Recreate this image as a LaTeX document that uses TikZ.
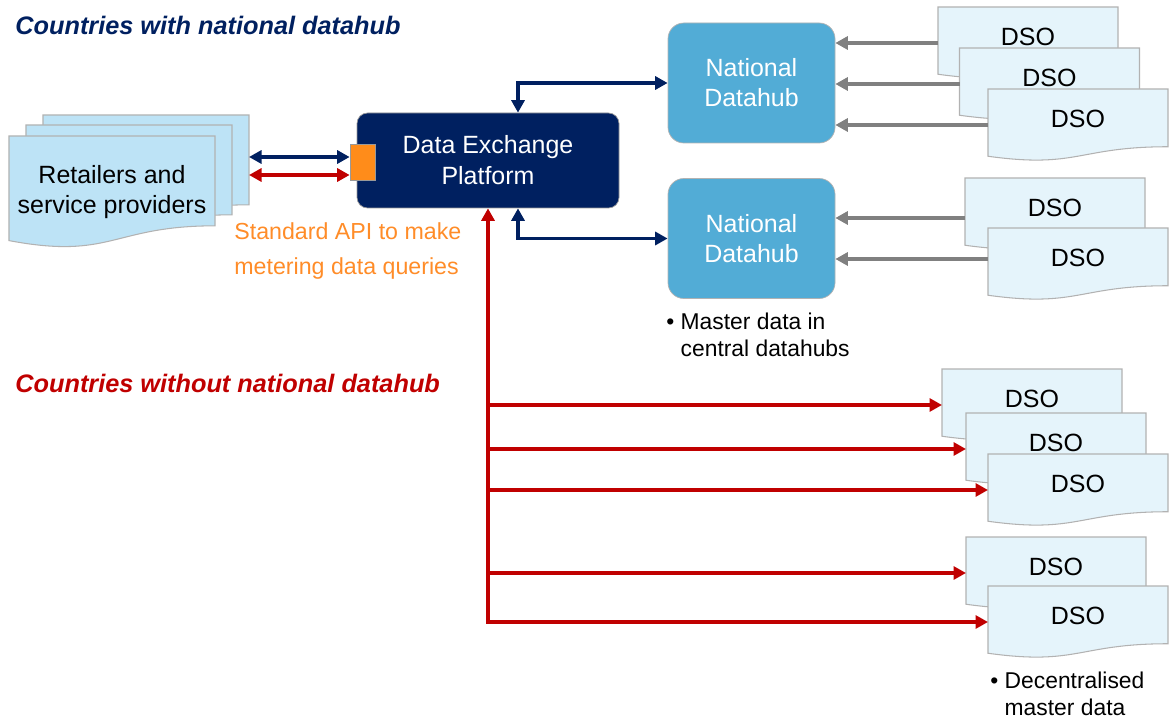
\documentclass[tikz,border=0pt]{standalone}
\usepackage{fontspec}
\setmainfont{Liberation Sans}
\usepackage{xcolor}
\usetikzlibrary{arrows.meta}

\definecolor{navy}{RGB}{0,32,96}
\definecolor{darkred}{RGB}{192,0,0}
\definecolor{hubblue}{RGB}{82,172,214}
\definecolor{retblue}{RGB}{189,227,246}
\definecolor{dsoblue}{RGB}{229,244,251}
\definecolor{apiorange}{RGB}{255,140,26}
\definecolor{apitext}{RGB}{255,140,40}

% document shape with a wavy bottom edge
\makeatletter
\pgfdeclareshape{wavedoc}{%
  \inheritsavedanchors[from=rectangle]%
  \inheritanchorborder[from=rectangle]%
  \inheritanchor[from=rectangle]{center}%
  \inheritanchor[from=rectangle]{text}%
  \inheritanchor[from=rectangle]{base}%
  \inheritanchor[from=rectangle]{mid}%
  \inheritanchor[from=rectangle]{north}%
  \inheritanchor[from=rectangle]{south}%
  \inheritanchor[from=rectangle]{east}%
  \inheritanchor[from=rectangle]{west}%
  \inheritanchor[from=rectangle]{north east}%
  \inheritanchor[from=rectangle]{north west}%
  \inheritanchor[from=rectangle]{south east}%
  \inheritanchor[from=rectangle]{south west}%
  \backgroundpath{%
    \southwest \edef\wdx{\the\pgf@x}\edef\wdy{\the\pgf@y}%
    \northeast \edef\wux{\the\pgf@x}\edef\wuy{\the\pgf@y}%
    \pgfmathsetlengthmacro\wdh{\wuy-\wdy}%
    \pgfmathsetlengthmacro\wdm{(\wdx+\wux)/2}%
    \pgfmathsetlengthmacro\wdr{\wuy-0.802*\wdh}%
    \pgfmathsetlengthmacro\wdc{\wuy-1.1075*\wdh}%
    \pgfmathsetlengthmacro\wdl{\wuy-0.934*\wdh}%
    \pgfpathmoveto{\pgfpoint{\wdx}{\wuy}}%
    \pgfpathlineto{\pgfpoint{\wux}{\wuy}}%
    \pgfpathlineto{\pgfpoint{\wux}{\wdr}}%
    \pgfpathcurveto{\pgfpoint{\wdm}{\wdr}}{\pgfpoint{\wdm}{\wdc}}{\pgfpoint{\wdx}{\wdl}}%
    \pgfpathclose
  }%
}
\makeatother

\begin{document}
\begin{tikzpicture}[
  x=0.2mm, y=-0.2mm,
  >={Triangle[length=2.5mm,width=2.6mm]},
  every node/.style = {font=\fontsize{14.2}{17}\selectfont},
  docbase/.style = {shape=wavedoc, draw=black!30, line width=0.6pt,
    outer sep=0pt, inner sep=0pt},
  dso/.style = {docbase, fill=dsoblue, minimum width=3.6cm,
    minimum height=1.44cm, text depth=2.5mm},
  retail/.style = {docbase, fill=retblue, minimum width=4.12cm,
    minimum height=2.24cm, align=center},
  platform/.style = {rectangle, rounded corners=6pt, draw=black!40,
    fill=navy, text=white, minimum width=5.24cm, minimum height=1.9cm,
    align=center, font=\fontsize{14.2}{17.6}\selectfont},
  hub/.style = {rectangle, rounded corners=9pt, draw=black!30,
    fill=hubblue, text=white, minimum width=3.34cm, minimum height=2.4cm,
    align=center},
  port/.style = {rectangle, draw=black!40, fill=apiorange,
    minimum width=5mm, minimum height=7.2mm, inner sep=0pt},
  title/.style = {font=\fontsize{14.4}{17}\selectfont\bfseries\itshape,
    inner sep=0pt, anchor=west},
  note/.style = {font=\fontsize{13}{15.3}\selectfont, align=left,
    inner sep=0pt, anchor=west},
  bluearr/.style = {draw=navy, line width=2pt},
  redarr/.style = {draw=darkred, line width=2pt},
  greyarr/.style = {->, draw=black!50, line width=2pt}
]
\useasboundingbox (0,0) rectangle (1169,720);

% titles
\node[title, text=navy]    (twith) at (15,25)  {Countries with national datahub};
\node[title, text=darkred] (twout) at (15,383) {Countries without national datahub};

% retailers
\node[retail] (ret3) at (146,171) {};
\node[retail] (ret2) at (129,181) {};
\node[retail] (ret1) at (112,192) {Retailers and\\service providers};

% platform and API
\node[platform] (dep) at (488,160.5) {Data Exchange\\Platform};
\node[port]     (api) at (362.5,162) {};
\node[note, text=apitext, font=\fontsize{13.2}{19.8}\selectfont]
  (apilbl) at (234,251) {Standard API to make\\metering data queries};

% national datahubs
\node[hub] (hub1) at (751.5,83)    {National\\Datahub};
\node[hub] (hub2) at (751.5,238.5) {National\\Datahub};
\node[note] (mnote) at (666,334.5)
  {\textbullet\ Master data in\\\hphantom{\textbullet\ }central datahubs};

% DSOs behind the datahubs
\node[dso] (dso1) at (1028,43)   {DSO};
\node[dso] (dso2) at (1049.5,84) {DSO};
\node[dso] (dso3) at (1078,125)  {DSO};
\node[dso] (dso4) at (1055,214)  {DSO};
\node[dso] (dso5) at (1078,264)  {DSO};

% DSOs without datahub
\node[dso] (dso6)  at (1032,405) {DSO};
\node[dso] (dso7)  at (1056,449) {DSO};
\node[dso] (dso8)  at (1078,490) {DSO};
\node[dso] (dso9)  at (1056,573) {DSO};
\node[dso] (dso10) at (1078,622) {DSO};
\node[note] (dnote) at (990,694)
  {\textbullet\ Decentralised\\\hphantom{\textbullet\ }master data};

% connectors
\draw[bluearr,<->] ([yshift=1mm]api.west) -- ([yshift=1mm]api.west -| ret3.east);
\draw[redarr,<->] ([yshift=-2.6mm]api.west) -- ([yshift=-2.6mm]api.west -| ret3.east);
\draw[bluearr,<->] ([xshift=6mm]dep.north) |- (hub1.west);
\draw[bluearr,<->] ([xshift=6mm]dep.south) |- (hub2.west);

\foreach \d in {dso1,dso2,dso3}
  \draw[greyarr] (\d.west) -- (\d.west -| hub1.east);
\draw[greyarr] ([yshift=-0.8mm]dso4.west) -- ([yshift=-0.8mm]dso4.west -| hub2.east);
\draw[greyarr] ([yshift=1mm]dso5.west) -- ([yshift=1mm]dso5.west -| hub2.east);

\draw[redarr,<->] (dep.south) |- (dso10.west);
\foreach \d in {dso6,dso7,dso8,dso9}
  \draw[redarr,->] (dep.south |- \d.west) -- (\d.west);
\end{tikzpicture}
\end{document}
